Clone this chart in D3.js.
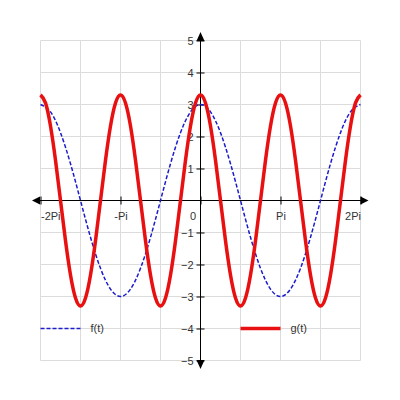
<!DOCTYPE html>
<html>
<head>
<meta charset="utf-8">
<script src="https://d3js.org/d3.v7.min.js"></script>
<style>
  body { margin: 0; background: #fff; }
  text { font-family: "Liberation Sans", Arial, sans-serif; font-size: 11px; fill: #333; }
</style>
</head>
<body>
<svg width="400" height="400"></svg>
<script>
// t in units of Pi
var fT = [-2, -1.875, -1.75, -1.625, -1.5, -1.375, -1.25, -1.125, -1, -0.875, -0.75, -0.625, -0.5, -0.375, -0.25, -0.125,
          0, 0.125, 0.25, 0.375, 0.5, 0.625, 0.75, 0.875, 1, 1.125, 1.25, 1.375, 1.5, 1.625, 1.75, 1.875, 2];
var fValues = [3, 2.77, 2.12, 1.15, 0, -1.15, -2.12, -2.77, -3, -2.77, -2.12, -1.15, 0, 1.15, 2.12, 2.77,
               3, 2.77, 2.12, 1.15, 0, -1.15, -2.12, -2.77, -3, -2.77, -2.12, -1.15, 0, 1.15, 2.12, 2.77, 3];

var gT = [-2, -1.9375, -1.875, -1.8125, -1.75, -1.6875, -1.625, -1.5625, -1.5, -1.4375, -1.375, -1.3125, -1.25, -1.1875, -1.125, -1.0625,
          -1, -0.9375, -0.875, -0.8125, -0.75, -0.6875, -0.625, -0.5625, -0.5, -0.4375, -0.375, -0.3125, -0.25, -0.1875, -0.125, -0.0625,
          0, 0.0625, 0.125, 0.1875, 0.25, 0.3125, 0.375, 0.4375, 0.5, 0.5625, 0.625, 0.6875, 0.75, 0.8125, 0.875, 0.9375,
          1, 1.0625, 1.125, 1.1875, 1.25, 1.3125, 1.375, 1.4375, 1.5, 1.5625, 1.625, 1.6875, 1.75, 1.8125, 1.875, 1.9375, 2];
var gValues = [3.3, 3.05, 2.33, 1.26, 0, -1.26, -2.33, -3.05, -3.3, -3.05, -2.33, -1.26, 0, 1.26, 2.33, 3.05,
               3.3, 3.05, 2.33, 1.26, 0, -1.26, -2.33, -3.05, -3.3, -3.05, -2.33, -1.26, 0, 1.26, 2.33, 3.05,
               3.3, 3.05, 2.33, 1.26, 0, -1.26, -2.33, -3.05, -3.3, -3.05, -2.33, -1.26, 0, 1.26, 2.33, 3.05,
               3.3, 3.05, 2.33, 1.26, 0, -1.26, -2.33, -3.05, -3.3, -3.05, -2.33, -1.26, 0, 1.26, 2.33, 3.05, 3.3];

var xTicks = [-2, -1, 0, 1, 2];
var xTickLabels = ["-2Pi", "-Pi", "0", "Pi", "2Pi"];
var yTicks = [-5, -4, -3, -2, -1, 1, 2, 3, 4, 5];
var xGrid = [-2, -1.5, -1, -0.5, 0, 0.5, 1, 1.5, 2];
var yGrid = [-5, -4, -3, -2, -1, 0, 1, 2, 3, 4, 5];
var seriesNames = ["f(t)", "g(t)"];

var svg = d3.select("svg");
var xScale = d3.scaleLinear().domain([-2, 2]).range([40.5, 360.5]);
var yScale = d3.scaleLinear().domain([-5, 5]).range([360.5, 40.5]);
var x0 = xScale(0), y0 = yScale(0);

// grid
svg.append("g").selectAll("line").data(xGrid).enter().append("line")
  .attr("x1", function (d) { return xScale(d); })
  .attr("x2", function (d) { return xScale(d); })
  .attr("y1", yScale(5)).attr("y2", yScale(-5))
  .attr("stroke", "#dcdcdc");
svg.append("g").selectAll("line").data(yGrid).enter().append("line")
  .attr("y1", function (d) { return yScale(d); })
  .attr("y2", function (d) { return yScale(d); })
  .attr("x1", xScale(-2)).attr("x2", xScale(2))
  .attr("stroke", "#dcdcdc");

// axes
var yAxis = svg.append("g").attr("transform", "translate(" + x0 + ",0)")
  .call(d3.axisLeft(yScale).tickValues(yTicks).tickSize(4).tickFormat(d3.format("d")));
yAxis.select(".domain").remove();
yAxis.selectAll(".tick line").attr("x1", 4).attr("stroke", "#000");
yAxis.selectAll(".tick text").attr("x", -7).style("font-family", null).style("font-size", null).attr("fill", null);
yAxis.attr("font-family", null).attr("font-size", null);

var xAxis = svg.append("g").attr("transform", "translate(0," + y0 + ")")
  .call(d3.axisBottom(xScale).tickValues(xTicks).tickSize(4)
    .tickFormat(function (d, i) { return xTickLabels[i]; }));
xAxis.select(".domain").remove();
xAxis.attr("font-family", null).attr("font-size", null);
xAxis.selectAll(".tick line").attr("y1", -4).attr("stroke", "#000");
xAxis.selectAll(".tick text").attr("y", 12).attr("fill", null)
  .attr("text-anchor", function (d, i) {
    return i === 0 ? "start" : (i === xTicks.length - 1 ? "end" : "middle");
  })
  .attr("dx", function (d) { return d === 0 ? -8 : 0; })
  .attr("x", function (d, i) { return i === 0 ? 0 : (i === xTicks.length - 1 ? 0 : 0); });

svg.append("line").attr("x1", 34).attr("x2", 366).attr("y1", y0).attr("y2", y0).attr("stroke", "#000");
svg.append("line").attr("x1", x0).attr("x2", x0).attr("y1", 34).attr("y2", 366).attr("stroke", "#000");
var arrows = [
  [[32, y0], [40, y0 - 4], [40, y0 + 4]],
  [[368.5, y0], [360.5, y0 - 4], [360.5, y0 + 4]],
  [[x0, 32], [x0 - 4, 41], [x0 + 4, 41]],
  [[x0, 369], [x0 - 4, 360], [x0 + 4, 360]]
];
svg.append("g").selectAll("path").data(arrows).enter().append("path")
  .attr("d", function (d) { return "M" + d.join("L") + "Z"; })
  .attr("fill", "#000");

// curves
var line = d3.line()
  .x(function (d) { return xScale(d[0]); })
  .y(function (d) { return yScale(d[1]); })
  .curve(d3.curveNatural);

svg.append("path")
  .attr("d", line(fT.map(function (t, i) { return [t, fValues[i]]; })))
  .attr("fill", "none").attr("stroke", "#1c1ccc").attr("stroke-width", 1.5)
  .attr("stroke-dasharray", "4,2");
svg.append("path")
  .attr("d", line(gT.map(function (t, i) { return [t, gValues[i]]; })))
  .attr("fill", "none").attr("stroke", "#e81010").attr("stroke-width", 3.5);

// legend
var ly = yScale(-4);
svg.append("line").attr("x1", xScale(-2)).attr("x2", xScale(-1.5)).attr("y1", ly).attr("y2", ly)
  .attr("stroke", "#1c1ccc").attr("stroke-width", 1.5).attr("stroke-dasharray", "4,2");
svg.append("text").attr("x", xScale(-1.5) + 10).attr("y", ly).attr("dy", "0.35em").text(seriesNames[0]);
svg.append("line").attr("x1", xScale(0.5)).attr("x2", xScale(1)).attr("y1", ly).attr("y2", ly)
  .attr("stroke", "#e81010").attr("stroke-width", 3.5);
svg.append("text").attr("x", xScale(1) + 10).attr("y", ly).attr("dy", "0.35em").text(seriesNames[1]);
</script>
</body>
</html>
